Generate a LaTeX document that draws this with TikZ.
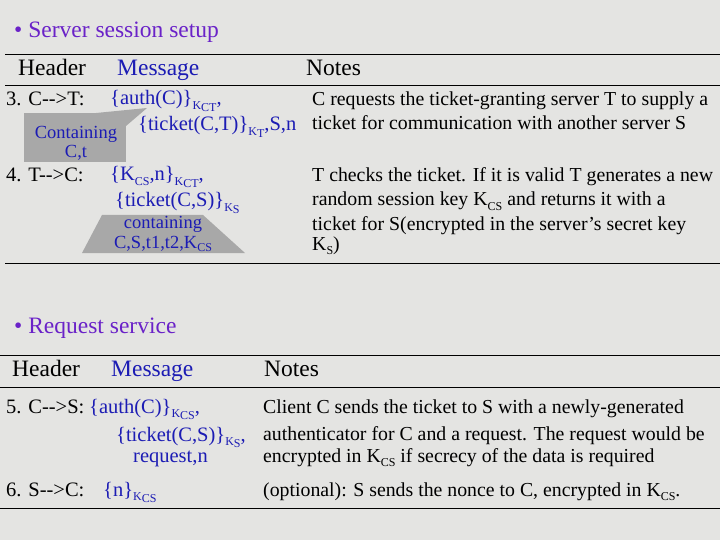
\documentclass[tikz,border=0pt]{standalone}
\usepackage{fontspec}
\setmainfont{Liberation Serif}
\definecolor{bg}{HTML}{E4E4E2}
\definecolor{ttl}{HTML}{6A22C8}
\definecolor{msg}{HTML}{1C1CB4}
\definecolor{callg}{HTML}{A8A8A8}
\newcommand\subs[1]{\raisebox{-0.45ex}{\fontsize{12}{12}\selectfont #1}}
\newcommand\arr{-{}-{}>}
\begin{document}
\begin{tikzpicture}[x=1pt,y=-1pt,
  txt/.style={anchor=base west,inner sep=0pt,font=\fontsize{20.5}{22}\selectfont},
  note/.style={anchor=base west,inner sep=0pt,font=\fontsize{19.8}{22}\selectfont},
  ms/.style={txt,text=msg},
  cl/.style={anchor=base,inner sep=0pt,text=msg,font=\fontsize{18.5}{20}\selectfont},
  ttlsty/.style={anchor=base west,inner sep=0pt,text=ttl,font=\fontsize{23.5}{26}\selectfont},
  hd/.style={anchor=base west,inner sep=0pt,font=\fontsize{23.5}{26}\selectfont},
  rule/.style={line width=0.8pt,black}]
\fill[bg] (0,0) rectangle (720,540);
\useasboundingbox (0,0) rectangle (720,540);
% rules
\coordinate (r1a) at (5,54); \coordinate (r1b) at (720,54);
\coordinate (r2a) at (5,85); \coordinate (r2b) at (720,85);
\coordinate (r3a) at (5,263); \coordinate (r3b) at (720,263);
\coordinate (r4a) at (0,355); \coordinate (r4b) at (720,355);
\coordinate (r5a) at (0,387); \coordinate (r5b) at (720,387);
\coordinate (r6a) at (0,508); \coordinate (r6b) at (720,508);
\draw[rule] (r1a)--(r1b); \draw[rule] (r2a)--(r2b); \draw[rule] (r3a)--(r3b);
\draw[rule] (r4a)--(r4b); \draw[rule] (r5a)--(r5b); \draw[rule] (r6a)--(r6b);
% callouts
\fill[callg] (24,113) rectangle (126,162);
\fill[callg] (96,113) -- (147,108) -- (126,126) -- cycle;
\fill[callg] (102,215) -- (203,215) -- (245,253) -- (82,253) -- cycle;
% section 1
\node[ttlsty] (t1) at (14,38) {\textbullet\ Server session setup};
\node[hd] (h1) at (18,76) {Header};
\node[hd,text=msg] (m1) at (117,76) {Message};
\node[hd] (n1) at (306,76) {Notes};
\node[txt] (a3) at (6,106) {3. C\arr T:};
\node[ms] (b3) at (110,105) {\{auth(C)\}\subs{K\subs{CT}},};
\node[ms] (c3) at (138,131) {\{ticket(C,T)\}\subs{K\subs{T}},S,n};
\node[cl] (k3) at (76,139) {Containing};
\node[cl] (k3b) at (76,158) {C,t};
\node[note] (d3) at (312,106) {C requests the ticket-granting server T to supply a};
\node[note] (e3) at (312,130) {ticket for communication with another server S};
\node[txt] (a4) at (6,182) {4. T\arr C:};
\node[ms] (b4) at (110,181) {\{K\subs{CS},n\}\subs{K\subs{CT}},};
\node[ms] (c4) at (115,207) {\{ticket(C,S)\}\subs{K\subs{S}}};
\node[cl] (k4) at (163,229) {containing};
\node[cl] (k5) at (163,248) {C,S,t1,t2,K\subs{CS}};
\node[note] (d4) at (312,182) {T checks the ticket. If it is valid T generates a new};
\node[note] (e4) at (312,206) {random session key K\subs{CS} and returns it with a};
\node[note] (f4) at (312,230) {ticket for S(encrypted in the server’s secret key};
\node[note] (g4) at (312,250) {K\subs{S})};
% section 2
\node[ttlsty] (t2) at (14,333) {\textbullet\ Request service};
\node[hd] (h2) at (12,376) {Header};
\node[hd,text=msg] (m2) at (111,376) {Message};
\node[hd] (n2) at (264,376) {Notes};
\node[txt] (a5) at (6,413) {5. C\arr S:};
\node[ms] (b5) at (89,413) {\{auth(C)\}\subs{K\subs{CS}},};
\node[ms] (c5) at (116,441) {\{ticket(C,S)\}\subs{K\subs{S}},};
\node[ms] (k6) at (133,462) {request,n};
\node[note] (d5) at (263,413) {Client C sends the ticket to S with a newly-generated};
\node[note] (e5) at (263,440) {authenticator for C and a request. The request would be};
\node[note] (f5) at (263,462) {encrypted in K\subs{CS} if secrecy of the data is required};
\node[txt] (a6) at (6,496) {6. S\arr C:};
\node[ms] (b6) at (103,496) {\{n\}\subs{K\subs{CS}}};
\node[note] (d6) at (263,496) {(optional): S sends the nonce to C, encrypted in K\subs{CS}.};
\end{tikzpicture}
\end{document}
